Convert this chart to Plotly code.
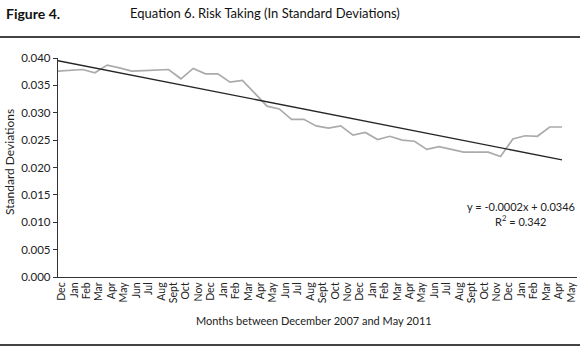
import plotly.graph_objects as go

months = ["Dec", "Jan", "Feb", "Mar", "Apr", "May", "Jun", "Jul", "Aug", "Sept", "Oct", "Nov",
          "Dec", "Jan", "Feb", "Mar", "Apr", "May", "Jun", "Jul", "Aug", "Sept", "Oct", "Nov",
          "Dec", "Jan", "Feb", "Mar", "Apr", "May", "Jun", "Jul", "Aug", "Sept", "Oct", "Nov",
          "Dec", "Jan", "Feb", "Mar", "Apr", "May"]

risk = [0.0376, 0.0377, 0.0379, 0.0373, 0.0387, 0.0382, 0.0376, 0.0377, 0.0378, 0.0379,
        0.0362, 0.0381, 0.0371, 0.0371, 0.0356, 0.0359, 0.0336, 0.0312, 0.0307, 0.0288,
        0.0288, 0.0276, 0.0272, 0.0276, 0.0259, 0.0264, 0.0251, 0.0257, 0.0250, 0.0248,
        0.0233, 0.0238, 0.0233, 0.0228, 0.0228, 0.0228, 0.0220, 0.0252, 0.0258, 0.0257,
        0.0274, 0.0274]

trend_idx = [0, 41]
trend_vals = [0.0395, 0.0214]

y_ticks = [0.000, 0.005, 0.010, 0.015, 0.020, 0.025, 0.030, 0.035, 0.040]

FONT = "Lato"
n = len(risk)
idx = list(range(n))
x_max = 42.22
label_first, label_last = 0.3, 41.75
label_step = (label_last - label_first) / (n - 1)
tick_pos = [label_first + i * label_step for i in idx]

fig = go.Figure()
fig.add_trace(go.Scatter(x=idx, y=risk, mode="lines",
                         line=dict(color="#ababab", width=1.7), hoverinfo="skip"))
fig.add_trace(go.Scatter(x=trend_idx, y=trend_vals, mode="lines",
                         line=dict(color="#262626", width=1.3), hoverinfo="skip"))

L, R, T, B = 58, 3, 58, 74
W, H = 580, 351
pw, ph = W - L - R, H - T - B


def px(xp):
    return (xp - L) / pw


def py(yp):
    return (H - B - yp) / ph


fig.update_layout(
    width=W, height=H,
    margin=dict(l=L, r=R, t=T, b=B),
    paper_bgcolor="white", plot_bgcolor="white",
    showlegend=False,
    font=dict(family=FONT, color="#222"),
    xaxis=dict(range=[0, x_max], showgrid=False, zeroline=False,
               showline=True, linecolor="#333", linewidth=1.3,
               tickmode="array", tickvals=tick_pos, ticktext=months,
               tickangle=-90, ticks="", tickfont=dict(size=10.5, family=FONT, color="#222")),
    yaxis=dict(range=[0, 0.040], showgrid=False, zeroline=False,
               showline=True, linecolor="#333", linewidth=1.3,
               tickmode="array", tickvals=y_ticks,
               ticktext=[f"{v:.3f}" for v in y_ticks],
               ticks="outside", ticklen=4, tickcolor="#333",
               tickfont=dict(size=11.5, family=FONT, color="#222")),
    shapes=[
        dict(type="line", xref="paper", yref="paper", x0=px(0), x1=px(W), y0=py(37), y1=py(37),
             line=dict(color="#444", width=2), layer="above"),
        dict(type="line", xref="paper", yref="paper", x0=px(0), x1=px(W), y0=py(345), y1=py(345),
             line=dict(color="#444", width=2), layer="above"),
    ],
    annotations=[
        dict(text="<b>Figure 4.</b>", xref="paper", yref="paper", x=px(4), y=py(13),
             xanchor="left", yanchor="middle", showarrow=False, font=dict(size=14, family=FONT, color="#111")),
        dict(text="Equation 6. Risk Taking (In Standard Deviations)", xref="paper", yref="paper",
             x=px(128), y=py(13), xanchor="left", yanchor="middle", showarrow=False,
             font=dict(size=13, family=FONT, color="#111")),
        dict(text="Standard Deviations", xref="paper", yref="paper", x=px(9), y=py(162),
             xanchor="center", yanchor="middle", textangle=-90, showarrow=False,
             font=dict(size=12, family=FONT, color="#222")),
        dict(text="Months between December 2007 and May 2011", xref="paper", yref="paper",
             x=px(314), y=py(320), xanchor="center", yanchor="middle", showarrow=False,
             font=dict(size=11, family=FONT, color="#222")),
        dict(text="y = -0.0002x + 0.0346", xref="paper", yref="paper",
             x=px(521), y=py(206), xanchor="center", yanchor="middle", showarrow=False,
             font=dict(size=11, family=FONT, color="#222")),
        dict(text="R<sup>2</sup> = 0.342", xref="paper", yref="paper",
             x=px(521), y=py(220), xanchor="center", yanchor="middle", showarrow=False,
             font=dict(size=11, family=FONT, color="#222")),
    ],
)

fig.write_html("out.html", config={"displayModeBar": False})

# remove the browser's default page margin so the figure sits at the window origin
with open("out.html", "r", encoding="utf-8") as f:
    html = f.read()
html = html.replace("<head>", "<head><style>html,body{margin:0;padding:0;overflow:hidden;}</style>", 1)
with open("out.html", "w", encoding="utf-8") as f:
    f.write(html)
